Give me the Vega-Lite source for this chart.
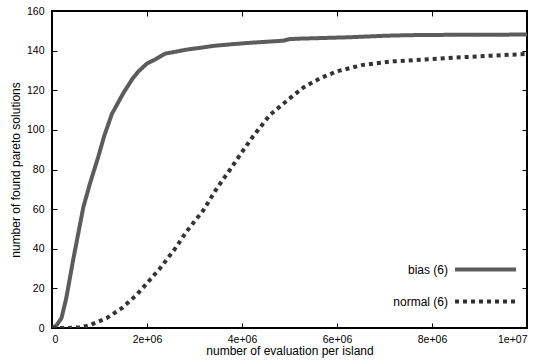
{
  "$schema": "https://vega.github.io/schema/vega-lite/v6.json",
  "width": 475,
  "height": 317,
  "autosize": {"type": "none"},
  "padding": {"left": 52, "top": 11, "right": 25, "bottom": 36},
  "background": "white",
  "config": {
    "view": {"stroke": "black", "strokeWidth": 2},
    "font": "Liberation Sans",
    "axis": {"domain": false, "grid": false, "tickColor": "black", "tickWidth": 1, "labelColor": "black", "titleColor": "black", "labelFont": "Liberation Sans", "titleFont": "Liberation Sans", "labelFontSize": 10.5, "titleFontSize": 12, "titleFontWeight": "normal"}
  },
  "data": {"values": [
    {"x": 0, "y": 0, "series": "bias (6)"},
    {"x": 100000, "y": 1.5, "series": "bias (6)"},
    {"x": 200000, "y": 5, "series": "bias (6)"},
    {"x": 300000, "y": 15, "series": "bias (6)"},
    {"x": 450000, "y": 35, "series": "bias (6)"},
    {"x": 660000, "y": 61, "series": "bias (6)"},
    {"x": 800000, "y": 73, "series": "bias (6)"},
    {"x": 975000, "y": 86.5, "series": "bias (6)"},
    {"x": 1100000, "y": 97, "series": "bias (6)"},
    {"x": 1260000, "y": 108, "series": "bias (6)"},
    {"x": 1500000, "y": 118.5, "series": "bias (6)"},
    {"x": 1700000, "y": 126, "series": "bias (6)"},
    {"x": 1820000, "y": 129.5, "series": "bias (6)"},
    {"x": 2000000, "y": 133.5, "series": "bias (6)"},
    {"x": 2170000, "y": 135.5, "series": "bias (6)"},
    {"x": 2380000, "y": 138.5, "series": "bias (6)"},
    {"x": 2550000, "y": 139.2, "series": "bias (6)"},
    {"x": 2830000, "y": 140.5, "series": "bias (6)"},
    {"x": 3120000, "y": 141.4, "series": "bias (6)"},
    {"x": 3400000, "y": 142.4, "series": "bias (6)"},
    {"x": 3820000, "y": 143.3, "series": "bias (6)"},
    {"x": 4200000, "y": 144, "series": "bias (6)"},
    {"x": 4600000, "y": 144.6, "series": "bias (6)"},
    {"x": 4870000, "y": 145, "series": "bias (6)"},
    {"x": 5000000, "y": 145.8, "series": "bias (6)"},
    {"x": 5150000, "y": 146, "series": "bias (6)"},
    {"x": 5600000, "y": 146.3, "series": "bias (6)"},
    {"x": 6200000, "y": 146.7, "series": "bias (6)"},
    {"x": 7000000, "y": 147.5, "series": "bias (6)"},
    {"x": 7500000, "y": 147.8, "series": "bias (6)"},
    {"x": 8500000, "y": 148, "series": "bias (6)"},
    {"x": 10000000, "y": 148.1, "series": "bias (6)"},
    {"x": 0, "y": 0, "series": "normal (6)"},
    {"x": 300000, "y": 0, "series": "normal (6)"},
    {"x": 600000, "y": 0.3, "series": "normal (6)"},
    {"x": 800000, "y": 1.5, "series": "normal (6)"},
    {"x": 1150000, "y": 5, "series": "normal (6)"},
    {"x": 1470000, "y": 10, "series": "normal (6)"},
    {"x": 1780000, "y": 16.7, "series": "normal (6)"},
    {"x": 2000000, "y": 22.6, "series": "normal (6)"},
    {"x": 2270000, "y": 30, "series": "normal (6)"},
    {"x": 2590000, "y": 40, "series": "normal (6)"},
    {"x": 2830000, "y": 48.6, "series": "normal (6)"},
    {"x": 3190000, "y": 59.6, "series": "normal (6)"},
    {"x": 3470000, "y": 70.5, "series": "normal (6)"},
    {"x": 3750000, "y": 80, "series": "normal (6)"},
    {"x": 3920000, "y": 86, "series": "normal (6)"},
    {"x": 4240000, "y": 97, "series": "normal (6)"},
    {"x": 4590000, "y": 107.6, "series": "normal (6)"},
    {"x": 5010000, "y": 116, "series": "normal (6)"},
    {"x": 5300000, "y": 121.5, "series": "normal (6)"},
    {"x": 5640000, "y": 126, "series": "normal (6)"},
    {"x": 5990000, "y": 129.5, "series": "normal (6)"},
    {"x": 6550000, "y": 132.8, "series": "normal (6)"},
    {"x": 7120000, "y": 134.5, "series": "normal (6)"},
    {"x": 7960000, "y": 135.7, "series": "normal (6)"},
    {"x": 8500000, "y": 136.5, "series": "normal (6)"},
    {"x": 9300000, "y": 137.5, "series": "normal (6)"},
    {"x": 10000000, "y": 138.3, "series": "normal (6)"}
  ]},
  "layer": [
    {
      "mark": {"type": "line", "opacity": 0},
      "encoding": {
        "x": {"field": "x", "type": "quantitative", "scale": {"domain": [0, 10000000], "nice": false, "zero": false},
          "axis": {"orient": "top", "labels": false, "title": null, "tickSize": -5, "values": [0, 2000000, 4000000, 6000000, 8000000, 10000000]}},
        "y": {"field": "y", "type": "quantitative", "scale": {"domain": [0, 160], "nice": false},
          "axis": {"orient": "right", "labels": false, "title": null, "tickSize": -5, "values": [0, 20, 40, 60, 80, 100, 120, 140, 160]}},
        "detail": {"field": "series"}
      }
    },
    {
      "mark": {"type": "line", "strokeWidth": 4, "strokeCap": "butt", "strokeJoin": "round", "clip": true},
      "encoding": {
        "x": {"field": "x", "type": "quantitative",
          "axis": {"orient": "bottom", "title": "number of evaluation per island", "tickSize": -5, "labelPadding": 11, "titlePadding": 1,
            "values": [0, 2000000, 4000000, 6000000, 8000000, 10000000],
            "labelExpr": "datum.value == 0 ? '0' : datum.value == 10000000 ? '1e+07' : (datum.value / 1000000) + 'e+06'"}},
        "y": {"field": "y", "type": "quantitative",
          "axis": {"orient": "left", "title": "number of found pareto solutions", "tickSize": -5, "labelPadding": 13, "titlePadding": 4,
            "values": [0, 20, 40, 60, 80, 100, 120, 140, 160]}},
        "color": {"field": "series", "type": "nominal", "scale": {"domain": ["bias (6)", "normal (6)"], "range": ["#5c5c5c", "#333333"]},
          "legend": {"title": null, "orient": "none", "legendX": 421, "legendY": 246, "direction": "vertical",
            "symbolType": "M-3,0H3", "symbolSize": 413, "symbolStrokeWidth": 4, "labelAlign": "right", "labelOffset": -50,
            "labelFontSize": 12, "labelFont": "Liberation Sans", "labelColor": "black", "rowPadding": 11}},
        "strokeDash": {"field": "series", "type": "nominal", "scale": {"domain": ["bias (6)", "normal (6)"], "range": [[1, 0], [4, 4]]},
          "legend": {"title": null, "orient": "none", "legendX": 421, "legendY": 246, "direction": "vertical",
            "symbolType": "M-3,0H3", "symbolSize": 413, "symbolStrokeWidth": 4, "labelAlign": "right", "labelOffset": -50,
            "labelFontSize": 12, "labelFont": "Liberation Sans", "labelColor": "black", "rowPadding": 11}}
      }
    }
  ],
  "resolve": {"axis": {"x": "independent", "y": "independent"}}
}
